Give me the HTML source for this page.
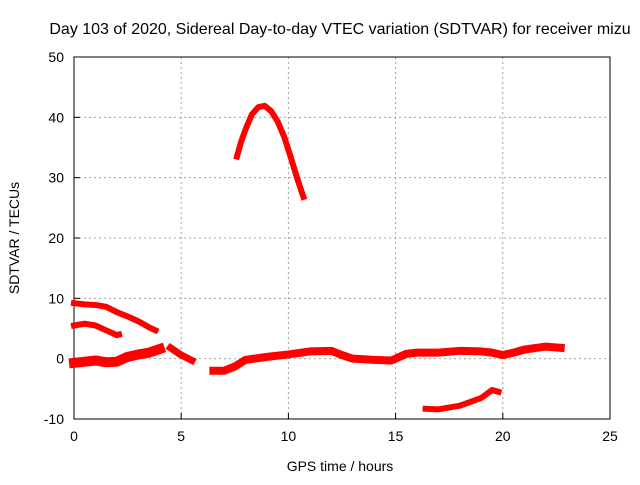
<!DOCTYPE html>
<html><head><meta charset="utf-8"><style>
body{margin:0;background:#fff}
svg text{font-family:"Liberation Sans",sans-serif;font-size:14px;fill:#000}
</style></head><body>
<svg width="640" height="480">
<g id="grid"></g><g id="axes"></g><g id="series"></g>
</svg>
<script>
const xTicks=[0,5,10,15,20,25];
const yTicks=[-10,0,10,20,30,40,50];
const segA_t=[0,0.5,1,1.5,2,2.5,3,3.5,3.8];
const segA_v=[9.2,9.0,8.9,8.6,7.7,7.0,6.2,5.2,4.7];
const segB_t=[0,0.5,1,1.5,2,2.1];
const segB_v=[5.5,5.8,5.5,4.7,3.9,4.0];
const segC_t=[0,0.5,1,1.5,2,2.5,3,3.5,4];
const segC_v=[-0.7,-0.5,-0.3,-0.6,-0.5,0.3,0.7,1.0,1.6];
const segD_t=[4.5,5,5.5];
const segD_v=[1.8,0.6,-0.3];
const segE_t=[6.5,7,7.5,8,9,10,11,12,12.5,13,14,14.8,15.5,16,17,18,19,19.5,20,20.5,21,22,22.7];
const segE_v=[-2,-2,-1.3,-0.2,0.3,0.7,1.2,1.3,0.6,0,-0.2,-0.3,0.8,1.0,1.0,1.3,1.2,1.0,0.6,1.0,1.5,2.0,1.8];
const segF_t=[7.6,7.8,8,8.3,8.6,8.9,9.2,9.5,9.8,10.1,10.4,10.7];
const segF_v=[33.5,36,38,40.5,41.7,41.9,41,39.3,36.8,33.5,30,26.8];
const segG_t=[16.4,17,18,19,19.5,19.8];
const segG_v=[-8.3,-8.4,-7.8,-6.5,-5.2,-5.5];
const X0=74,X1=610,Y0=419,Y1=57;
const sx=t=>X0+(t-0)/25*(X1-X0);
const sy=v=>Y0-(v+10)/60*(Y0-Y1);
const NS="http://www.w3.org/2000/svg";
function mk(tag,attrs,parent,text){const e=document.createElementNS(NS,tag);for(const k in attrs)e.setAttribute(k,attrs[k]);if(text!==undefined)e.textContent=text;parent.appendChild(e);return e;}
const grid=document.getElementById('grid'),axes=document.getElementById('axes'),series=document.getElementById('series');
xTicks.forEach(t=>{
  if(t>0&&t<25){const l=mk('line',{x1:sx(t),x2:sx(t),y1:Y0,y2:Y1,stroke:'#a0a0a0','stroke-dasharray':'2,3'},grid);
  }
  const tx=mk('text',{x:sx(t),y:Y0+22,'text-anchor':'middle'},axes,String(t));
  
  mk('line',{x1:sx(t),x2:sx(t),y1:Y0,y2:Y0-6,stroke:'#000'},axes);
});
yTicks.forEach(v=>{
  if(v>-10&&v<50){const l=mk('line',{x1:X0,x2:X1,y1:sy(v),y2:sy(v),stroke:'#a0a0a0','stroke-dasharray':'2,3'},grid);
  }
  const tx=mk('text',{x:X0-10,y:sy(v)+5,'text-anchor':'end'},axes,String(v));
  
  mk('line',{x1:X0,x2:X0+6,y1:sy(v),y2:sy(v),stroke:'#000'},axes);
});
const box=mk('rect',{x:X0,y:Y1,width:X1-X0,height:Y0-Y1,fill:'none',stroke:'#000'},axes);

const ti=mk('text',{x:340,y:34,'text-anchor':'middle','font-size':'16','style':'font-size:16px'},axes,'Day 103 of 2020, Sidereal Day-to-day VTEC variation (SDTVAR) for receiver mizu');

const xt=mk('text',{x:340,y:471,'text-anchor':'middle'},axes,'GPS time / hours');

const yt=mk('text',{x:0,y:0,'text-anchor':'middle',transform:'translate(19,238) rotate(-90)'},axes,'SDTVAR / TECUs');

const segs=[[segA_t,segA_v,6],[segB_t,segB_v,6],[segC_t,segC_v,10],[segD_t,segD_v,7],[segE_t,segE_v,8],[segF_t,segF_v,6],[segG_t,segG_v,6]];
segs.forEach(([ts,vs,w])=>{
  const pts=ts.map((t,i)=>sx(t)+','+sy(vs[i])).join(' ');
  const p=mk('polyline',{points:pts,fill:'none',stroke:'#ff0000','stroke-width':w,'stroke-linejoin':'round','stroke-linecap':'square'},series);
  
});
</script>
</body></html>
